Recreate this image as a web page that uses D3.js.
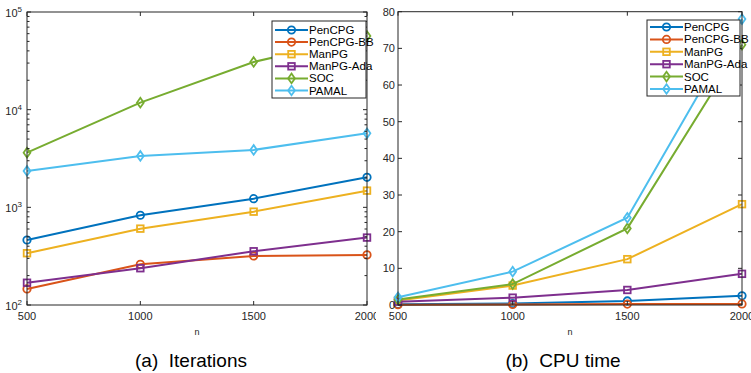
<!DOCTYPE html>
<html>
<head>
<meta charset="utf-8">
<script src="https://cdn.jsdelivr.net/npm/d3@7"></script>
<style>
  body { margin: 0; background: #fff; }
  text { font-family: "Liberation Sans", Arial, sans-serif; }
</style>
</head>
<body>
<svg id="chart" width="751" height="373"></svg>
<script>
// problem sizes
const nValues = [500, 1000, 1500, 2000];
const seriesNames = ['PenCPG', 'PenCPG-BB', 'ManPG', 'ManPG-Ada', 'SOC', 'PAMAL'];
const seriesColors = ['#0072BD', '#D95319', '#EDB120', '#7E2F8E', '#77AC30', '#4DBEEE'];
const seriesMarkers = ['circle', 'circle', 'square', 'square', 'diamond', 'diamond'];

// (a) iterations, log scale
const iterPenCPG = [463, 830, 1227, 2030];
const iterPenCPGBB = [146, 261, 318, 326];
const iterManPG = [339, 605, 903, 1482];
const iterManPGAda = [169, 238, 355, 490];
const iterSOC = [3630, 11800, 30800, 56800];
const iterPAMAL = [2360, 3360, 3870, 5730];

// (b) cpu time
const cpuPenCPG = [0.2, 0.4, 1.1, 2.5];
const cpuPenCPGBB = [0.1, 0.15, 0.25, 0.3];
const cpuManPG = [1.2, 5.3, 12.5, 27.5];
const cpuManPGAda = [0.9, 2.0, 4.1, 8.5];
const cpuSOC = [1.5, 5.7, 20.9, 71.0];
const cpuPAMAL = [2.1, 9.1, 23.8, 78.0];

const xTicks = [500, 1000, 1500, 2000];
const logTicks = [100, 1000, 10000, 100000];
const cpuTicks = [0, 10, 20, 30, 40, 50, 60, 70, 80];

const iterSeries = [iterPenCPG, iterPenCPGBB, iterManPG, iterManPGAda, iterSOC, iterPAMAL];
const cpuSeries = [cpuPenCPG, cpuPenCPGBB, cpuManPG, cpuManPGAda, cpuSOC, cpuPAMAL];

const svg = d3.select('#chart');
const axisColor = '#262626';

function drawMarker(g, type, cx, cy, color) {
  if (type === 'circle') {
    g.append('circle').attr('cx', cx).attr('cy', cy).attr('r', 3.7)
      .attr('fill', 'none').attr('stroke', color).attr('stroke-width', 1.8);
  } else if (type === 'square') {
    g.append('rect').attr('x', cx - 3.3).attr('y', cy - 3.3).attr('width', 6.6).attr('height', 6.6)
      .attr('fill', 'none').attr('stroke', color).attr('stroke-width', 1.8);
  } else {
    g.append('path').attr('d', `M${cx},${cy - 4.8}L${cx + 3.4},${cy}L${cx},${cy + 4.8}L${cx - 3.4},${cy}Z`)
      .attr('fill', 'none').attr('stroke', color).attr('stroke-width', 1.8);
  }
}

function drawPanel(opts) {
  const g = svg.append('g');
  if (opts.clip) {
    svg.append('clipPath').attr('id', opts.clip.id)
      .append('rect').attr('x', opts.clip.x0).attr('y', 0).attr('width', opts.clip.x1 - opts.clip.x0).attr('height', 373);
    g.attr('clip-path', `url(#${opts.clip.id})`);
  }
  const {left, right, top, bottom} = opts;
  const x = d3.scaleLinear().domain([500, 2000]).range([left, right]);
  const y = opts.y;

  // lines
  const line = d3.line().x((d, i) => x(nValues[i])).y(d => y(d));
  opts.series.forEach((vals, s) => {
    g.append('path').datum(vals).attr('d', line)
      .attr('fill', 'none').attr('stroke', seriesColors[s]).attr('stroke-width', 2);
    vals.forEach((v, i) => drawMarker(g, seriesMarkers[s], x(nValues[i]), y(v), seriesColors[s]));
  });

  // axes box
  g.append('rect').attr('x', left).attr('y', top).attr('width', right - left).attr('height', bottom - top)
    .attr('fill', 'none').attr('stroke', axisColor).attr('stroke-width', 1);

  // x ticks inward top & bottom
  xTicks.forEach(t => {
    const px = x(t);
    g.append('line').attr('x1', px).attr('x2', px).attr('y1', bottom).attr('y2', bottom - 4).attr('stroke', axisColor);
    g.append('line').attr('x1', px).attr('x2', px).attr('y1', top).attr('y2', top + 4).attr('stroke', axisColor);
    g.append('text').attr('x', px).attr('y', bottom + 15).attr('text-anchor', 'middle')
      .attr('font-size', 11).attr('fill', axisColor).text(t);
  });
  g.append('text').attr('x', (left + right) / 2).attr('y', bottom + 30).attr('text-anchor', 'middle')
    .attr('font-size', 9).attr('fill', axisColor).text('n');

  // y ticks
  opts.yMinor.forEach(t => {
    const py = y(t);
    g.append('line').attr('x1', left).attr('x2', left + 2.5).attr('y1', py).attr('y2', py).attr('stroke', axisColor);
    g.append('line').attr('x1', right).attr('x2', right - 2.5).attr('y1', py).attr('y2', py).attr('stroke', axisColor);
  });
  opts.yTicks.forEach(t => {
    const py = y(t);
    g.append('line').attr('x1', left).attr('x2', left + 4).attr('y1', py).attr('y2', py).attr('stroke', axisColor);
    g.append('line').attr('x1', right).attr('x2', right - 4).attr('y1', py).attr('y2', py).attr('stroke', axisColor);
    opts.yLabel(g, t, left - 3, py);
  });

  // legend
  const lg = g.append('g');
  const L = opts.legend;
  lg.append('rect').attr('x', L.x).attr('y', L.y).attr('width', L.w).attr('height', L.h)
    .attr('fill', '#fff').attr('stroke', axisColor).attr('stroke-width', 1);
  seriesNames.forEach((name, i) => {
    const cy = L.y + L.first + i * L.step;
    lg.append('line').attr('x1', L.x + 3).attr('x2', L.x + 36).attr('y1', cy).attr('y2', cy)
      .attr('stroke', seriesColors[i]).attr('stroke-width', 2);
    drawMarker(lg, seriesMarkers[i], L.x + 19.5, cy, seriesColors[i]);
    lg.append('text').attr('x', L.x + 37).attr('y', cy + 4).attr('font-size', 11.5)
      .attr('fill', '#000').text(name);
  });

  svg.append('text').attr('x', opts.captionX).attr('y', 367).attr('text-anchor', 'middle')
    .attr('font-size', 19).attr('fill', '#000').attr('xml:space', 'preserve').text(opts.caption);
}

// panel (a)
const yLog = d3.scaleLog().domain([100, 100000]).range([305, 12]);
const minorLog = [];
[100, 1000, 10000].forEach(b => { for (let k = 2; k <= 9; k++) minorLog.push(b * k); });
drawPanel({
  left: 27, right: 367, top: 12, bottom: 305, y: yLog, series: iterSeries,
  yTicks: logTicks, yMinor: minorLog,
  clip: {id: 'clipA', x0: 0, x1: 376},
  yLabel: (g, t, px, py) => {
    const txt = g.append('text').attr('x', px - 2).attr('y', py + 5).attr('text-anchor', 'end')
      .attr('font-size', 11).attr('fill', axisColor);
    txt.append('tspan').text('10');
    txt.append('tspan').attr('dy', -5).attr('font-size', 8).text(Math.round(Math.log10(t)));
  },
  legend: {x: 272, y: 21, w: 94, h: 77, first: 9, step: 12.1},
  caption: '(a)  Iterations', captionX: 191
});

// panel (b)
const yLin = d3.scaleLinear().domain([0, 80]).range([305, 11.7]);
drawPanel({
  left: 398, right: 742, top: 11.7, bottom: 305, y: yLin, series: cpuSeries,
  yTicks: cpuTicks, yMinor: [],
  yLabel: (g, t, px, py) => {
    g.append('text').attr('x', px).attr('y', py + 4).attr('text-anchor', 'end')
      .attr('font-size', 11).attr('fill', axisColor).text(t);
  },
  legend: {x: 647, y: 20, w: 93, h: 76, first: 7, step: 12.4},
  caption: '(b)  CPU time', captionX: 563
});
</script>
</body>
</html>
